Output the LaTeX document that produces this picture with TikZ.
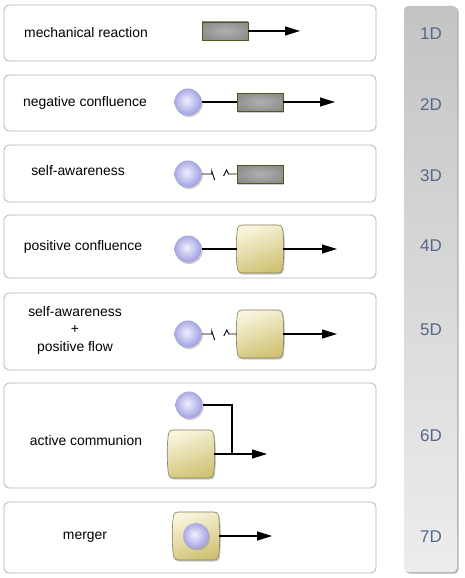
\documentclass[tikz,border=0pt]{standalone}
\usepackage{fontspec}
\setmainfont{Liberation Sans}
\usetikzlibrary{arrows.meta,shadows}

\definecolor{panelline}{HTML}{B4B4B4}
\definecolor{levelText}{HTML}{56688A}
\definecolor{barTop}{HTML}{C4C4C4}
\definecolor{barBottom}{HTML}{EDEDED}
\definecolor{ballIn}{HTML}{F0F0FF}
\definecolor{ballOut}{HTML}{9494DC}
\definecolor{boxIn}{HTML}{B0B0B0}
\definecolor{boxOut}{HTML}{7A7A7A}
\definecolor{boxLine}{HTML}{55551E}
\definecolor{canLight}{HTML}{F8F5DC}
\definecolor{canDark}{HTML}{D0C275}
\definecolor{canLine}{HTML}{7E7A5A}

\pgfdeclareradialshading{ballshade}{\pgfpoint{-3bp}{3bp}}{color(0bp)=(ballIn); color(30bp)=(ballOut); color(50bp)=(ballOut)}
\pgfdeclareradialshading{boxshade}{\pgfpointorigin}{color(0bp)=(boxIn); color(45bp)=(boxOut); color(50bp)=(boxOut)}

\tikzset{
  panel/.style={draw=panelline, fill=white, rounded corners=5pt, line width=.8pt},
  caption/.style={font=\fontsize{13.9}{17.5}\selectfont, align=center},
  level/.style={font=\fontsize{17}{20}\selectfont, text=levelText},
  softshadow/.style={drop shadow={shadow xshift=1.2pt, shadow yshift=-1.5pt, opacity=.4}},
  ball/.style={circle, minimum size=27pt, inner sep=0pt, shade, shading=ballshade, softshadow},
  box/.style={rectangle, minimum width=46pt, minimum height=18pt, inner sep=0pt,
    draw=boxLine, line width=.8pt, shade, shading=boxshade, softshadow},
  canbox/.style={minimum width=46pt, minimum height=48pt, inner sep=0pt},
  can/.style={draw=canLine, line width=.6pt, top color=canLight, bottom color=canDark,
    shading angle=20, softshadow},
  link/.style={line width=1.2pt},
  flow/.style={link, -{Triangle[length=15pt, width=9pt]}},
  broken/.style={line width=.9pt},
}

\newcommand\drawcan[2]{%
  \node[canbox] (#1) at (#2) {};
  \begin{scope}[shift={(#1.center)}]
    \path[can] (-18,-24) -- (18,-24) .. controls (21.5,-24) and (23,-21) .. (23,-16)
      .. controls (24,-7) and (24,7) .. (23,16) .. controls (23,21) and (21.5,24) .. (18,24)
      -- (-18,24) .. controls (-21.5,24) and (-23,21) .. (-23,16)
      .. controls (-24,7) and (-24,-7) .. (-23,-16) .. controls (-23,-21) and (-21.5,-24) .. (-18,-24) -- cycle;
  \end{scope}}

\begin{document}
\begin{tikzpicture}[x=1pt, y=-1pt]
  \useasboundingbox[fill=white] (0,0) rectangle (465,578);

  % level bar
  \shade[top color=barTop, bottom color=barBottom, rounded corners=4pt,
    drop shadow={shadow xshift=1.5pt, shadow yshift=-1.5pt, opacity=.6}] (404,6) rectangle (457,572);
  \foreach \n/\y in {1/34,2/105,3/176,4/246,5/330,6/436,7/537}
    \node[level] (lvl\n) at (431,\y) {\n D};

  % panels
  \foreach \t/\b in {5/61,75/131,145/202,215/278,293/370,383/488,502/573}
    \draw[panel] (4,\t) rectangle (376,\b);

  \node[caption] (cap1) at (86,33) {mechanical reaction};
  \node[caption] (cap2) at (85,103) {negative confluence};
  \node[caption] (cap3) at (78,171) {self-awareness};
  \node[caption] (cap4) at (83,247) {positive confluence};
  \node[caption] (cap5) at (75,330) {self-awareness\\+\\positive flow};
  \node[caption] (cap6) at (86,441) {active communion};
  \node[caption] (cap7) at (85,537) {merger};

  % 1D
  \node[box] (r1) at (225,31) {};
  \coordinate (e1) at (300,31);
  \draw[flow] (r1) -- (e1);

  % 2D
  \node[ball] (c2) at (188,102) {};
  \node[box] (r2) at (260,102) {};
  \coordinate (e2) at (335,102);
  \draw[link] (c2) -- (r2);
  \draw[flow] (r2) -- (e2);

  % 3D
  \node[ball] (c3) at (188,174) {};
  \node[box] (r3) at (260,174) {};
  \draw[broken] (c3.east) -- ++(10,0) -- ++(0,-3) -- ++(3,9);
  \draw[broken] (r3.west) -- ++(-8,0) -- ++(-2,-4) -- ++(-3,6);

  % 4D
  \node[ball] (c4) at (188,249) {};
  \drawcan{b4}{260,249}
  \coordinate (e4) at (337,249);
  \draw[link] (c4) -- (b4);
  \draw[flow] (b4) -- (e4);

  % 5D
  \node[ball] (c5) at (188,334) {};
  \drawcan{b5}{260,334}
  \coordinate (e5) at (337,334);
  \draw[broken] (c5.east) -- ++(10,0) -- ++(0,-3) -- ++(3,9);
  \draw[broken] (b5.west) -- ++(-8,0) -- ++(-2,-4) -- ++(-3,6);
  \draw[flow] (b5) -- (e5);

  % 6D
  \node[ball] (c6) at (189,405) {};
  \drawcan{b6}{191,454}
  \coordinate (j6) at (232,454);
  \coordinate (e6) at (267,454);
  \draw[link] (c6.east) -| (j6);
  \draw[flow] (b6) -- (e6);

  % 7D
  \drawcan{b7}{196,536}
  \node[ball, minimum size=26pt] (c7) at (196,536) {};
  \coordinate (e7) at (272,536);
  \draw[flow] (b7) -- (e7);
\end{tikzpicture}
\end{document}
